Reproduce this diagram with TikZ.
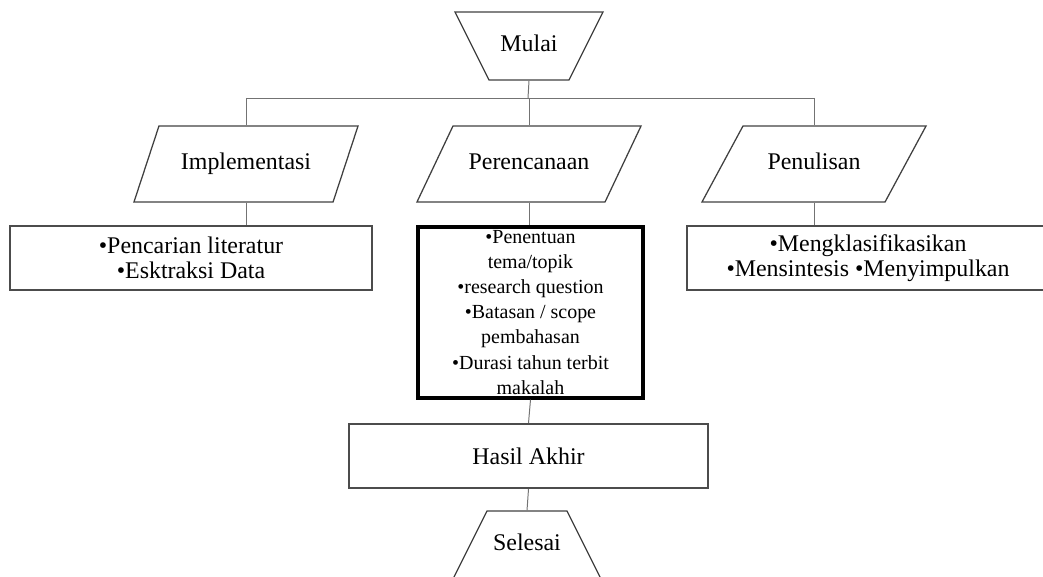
\documentclass[tikz,border=0pt]{standalone}
\usepackage{fontspec}
\setmainfont{Liberation Serif}
\usetikzlibrary{shapes.geometric}

\begin{document}
\begin{tikzpicture}[x=0.025cm, y=-0.025cm,
  lbl/.style={font=\fontsize{17}{17.8}\selectfont},
  term/.style={trapezium, trapezium stretches body, draw=black!75, line width=0.9pt,
    lbl, text height=12pt, text depth=4pt, inner xsep=0pt, inner ysep=16.18pt,
    minimum width=3.7cm},
  para/.style={trapezium, trapezium stretches body, draw=black!75, line width=0.9pt,
    lbl, text height=12pt, text depth=4pt, inner xsep=0pt, inner ysep=19.03pt,
    minimum width=5.6cm},
  box/.style={rectangle, draw=black!70, line width=1.4pt, align=center, lbl,
    inner sep=0pt, minimum height=1.6cm},
  link/.style={draw=black!55, line width=0.7pt}]
\useasboundingbox (0,0) rectangle (1043,577);

% start
\node[term, trapezium left angle=116.57, trapezium right angle=116.57] (mulai) at (529,46) {Mulai};
\coordinate (split) at (528,98);

% three stages
\node[para, trapezium left angle=71.8, trapezium right angle=108.2] (impl) at (246,164) {Implementasi};
\node[para, trapezium left angle=64.65, trapezium right angle=115.35] (plan) at (529,164) {Perencanaan};
\node[para, trapezium left angle=61.65, trapezium right angle=118.35] (tulis) at (814,164) {Penulisan};

% their details
\node[box, minimum width=9.05cm] (lbox) at (191,258) {•Pencarian literatur\\•Esktraksi Data};
\node[box, draw=black, line width=2.4pt, minimum width=5.625cm, minimum height=4.275cm,
  font=\fontsize{14.2}{17.8}\selectfont] (mbox) at (530.5,312.5)
  {•Penentuan\\tema/topik\\•research question\\•Batasan / scope\\pembahasan\\•Durasi tahun terbit\\makalah};
\node[box, minimum width=9.05cm] (rbox) at (868,258) {•Mengklasifikasikan\\•Mensintesis •Menyimpulkan};

% end
\node[box, minimum width=8.975cm] (hasil) at (528.5,456) {Hasil Akhir};
\node[term, trapezium left angle=63.43, trapezium right angle=63.43] (selesai) at (527,545) {Selesai};

\draw[link] (mulai.south) -- (split);
\draw[link] (split -| impl) -- (split -| tulis);
\draw[link] (split -| impl) -- (impl.north -| impl);
\draw[link] (split -| plan) -- (plan.north -| plan);
\draw[link] (split -| tulis) -- (tulis.north -| tulis);
\draw[link] (impl.south -| impl) -- (lbox.north -| impl);
\draw[link] (plan.south -| plan) -- (mbox.north -| plan);
\draw[link] (tulis.south -| tulis) -- (rbox.north -| tulis);
\draw[link] (mbox.south) -- (hasil.north);
\draw[link] (hasil.south) -- (selesai.north);
\end{tikzpicture}
\end{document}
